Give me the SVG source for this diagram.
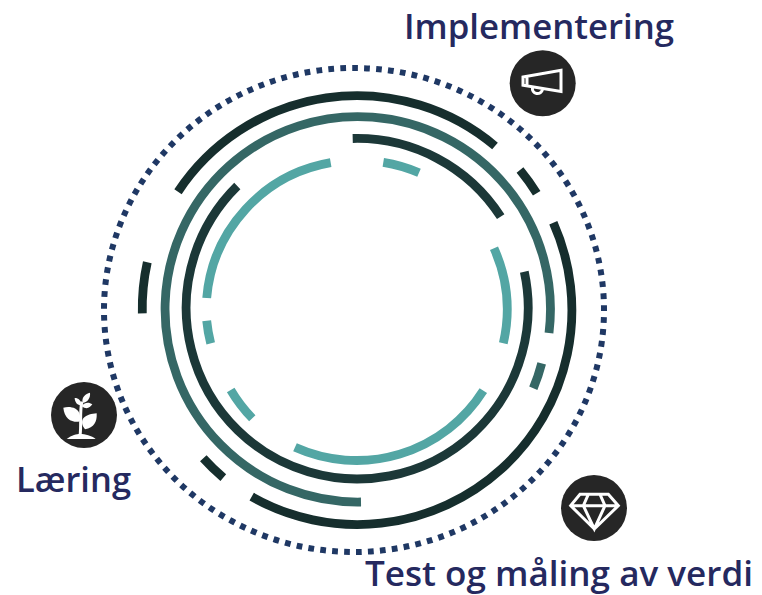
<svg xmlns="http://www.w3.org/2000/svg" width="762" height="595" viewBox="0 0 762 595">
<style>
.r{fill:none;stroke-width:8.8}
.o{stroke:#162e2d}.m{stroke:#356765}.i{stroke:#1c3838}.l{stroke:#53a6a4}
.t{font-family:"Open Sans","Noto Sans",sans-serif;font-weight:600;fill:#25295f;font-size:35px}
.c{fill:#262626}
.w{fill:none;stroke:#fff;stroke-width:3}
.f{fill:#fff}
</style>
<rect width="762" height="595" fill="#fff"/>
<g id="rings">
<ellipse cx="354" cy="310" rx="250" ry="242" fill="none" stroke="#1f3864" stroke-width="6" pathLength="129" stroke-dasharray="0.48 0.52" stroke-dashoffset="-0.6"/>
<path class="r o" d="M178,191.7A214.5 214.5 0 0 1 495,146"/>
<path class="r o" d="M520,170A214.5 214.5 0 0 1 536.7,193.3"/>
<path class="r o" d="M553.3,222.7A214.5 214.5 0 0 1 251.7,496.7"/>
<path class="r o" d="M203.3,458.3A214.5 214.5 0 0 0 223.3,477.7"/>
<path class="r o" d="M147.3,262.3A214.5 214.5 0 0 0 142.3,313.3"/>
<path class="r m" d="M549,333A192.7 192.7 0 1 0 361,502"/>
<path class="r m" d="M541.7,363.3A192.7 192.7 0 0 1 533.3,388.3"/>
<path class="r i" d="M352.7,138.5A171 171 0 0 1 500.7,216.7"/>
<path class="r i" d="M524.3,271.7A171 171 0 1 1 237.3,186"/>
<path class="r l" d="M206.7,298A150 150 0 0 1 330.7,162.7"/>
<path class="r l" d="M383.3,162.3A150 150 0 0 1 419,172.7"/>
<path class="r l" d="M494,248.3A150 150 0 0 1 503.3,343.3"/>
<path class="r l" d="M483.3,390.7A150 150 0 0 1 295,447.3"/>
<path class="r l" d="M252.3,418.3A150 150 0 0 1 230.7,390"/>
<path class="r l" d="M210.7,343.3A150 150 0 0 1 206.7,320.7"/>
</g>
<g id="implementering">
<circle class="c" cx="542.7" cy="83.3" r="33"/>
<path class="w" d="M523,77L561,70.2V91.5L523,85.2ZM527,77V85.5"/>
<path class="w" stroke-width="2.5" d="M532.5,87.5A5 5 0 0 0 542.5,89.5"/>
<text class="t" x="404" y="38.5" textLength="270" lengthAdjust="spacingAndGlyphs">Implementering</text>
</g>
<g id="laering">
<circle class="c" cx="84" cy="415" r="33"/>
<g transform="translate(30 370) scale(.3333)">
<path class="f" d="M110,207C125,195 140,192 150,192C165,192 185,197 197,207Z"/>
<path fill="none" stroke="#fff" stroke-width="9" d="M150,197C155,165 148,125 156,95"/>
<path class="f" d="M100,113C120,108 142,113 148,130C152,142 152,152 146,155C125,157 103,147 100,113Z"/>
<path class="f" d="M200,130C202,155 192,174 165,178C156,167 153,155 160,145C170,134 185,131 200,130Z"/>
<path class="f" d="M134,84C146,84 154,92 154,106C142,106 135,98 134,84Z"/>
<path class="f" d="M180,68C182,82 174,97 158,98C154,82 166,72 180,68Z"/>
<path class="f" d="M187,103C179,115 168,119 155,108C165,96 177,96 187,103Z"/>
</g>
<text class="t" x="16" y="492" textLength="115" lengthAdjust="spacingAndGlyphs">Læring</text>
</g>
<g id="test">
<circle class="c" cx="594" cy="508" r="33"/>
<g transform="translate(550 465) scale(.3333)">
<path fill="none" stroke="#fff" stroke-width="9" d="M90,88H175L205,122L133,192L62,122ZM62,122H205M115,88L100,122L133,192L165,122L150,88"/>
</g>
<text class="t" x="365" y="586" textLength="388" lengthAdjust="spacingAndGlyphs">Test og måling av verdi</text>
</g>
</svg>
